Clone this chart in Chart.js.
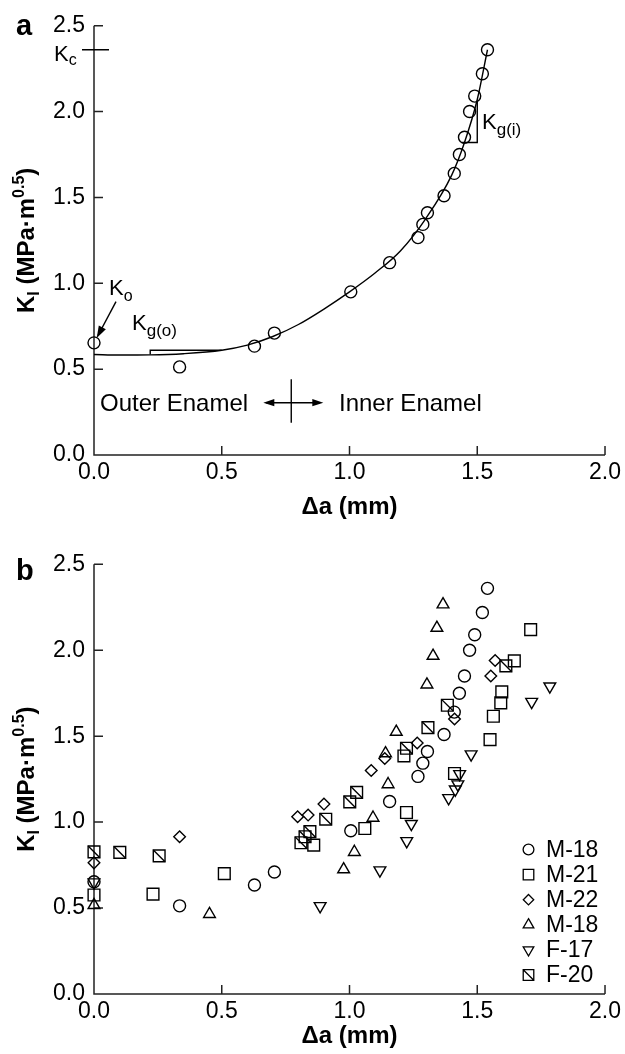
<!DOCTYPE html>
<html>
<head>
<meta charset="utf-8">
<title>K-resistance curves</title>
<script src="https://cdn.jsdelivr.net/npm/chart.js@4.4.1/dist/chart.umd.min.js"></script>
<style>
  html, body { margin: 0; padding: 0; background: #fff; }
  canvas { display: block; }
</style>
</head>
<body>
<canvas id="chart-a" width="625" height="530"></canvas>
<canvas id="chart-b" width="625" height="524"></canvas>
<script>
const FONT = '"Liberation Sans", Arial, Helvetica, sans-serif';
const INK = '#000';

// axis ticks, same for both panels
const xTicks = [0, 0.5, 1.0, 1.5, 2.0];
const yTicks = [0, 0.5, 1.0, 1.5, 2.0, 2.5];

// panel a (and circles in b): M-18, K_I vs crack extension
const m18X = [0.0, 0.335, 0.628, 0.706, 1.005, 1.157, 1.268, 1.287, 1.305, 1.37, 1.41, 1.43, 1.45, 1.47, 1.49, 1.52, 1.54];
const m18Y = [0.653, 0.513, 0.634, 0.71, 0.95, 1.12, 1.266, 1.343, 1.411, 1.51, 1.64, 1.75, 1.85, 2.0, 2.09, 2.22, 2.36];

// panel a: fitted curve
const fitX = [0, 0.1, 0.22, 0.35, 0.5, 0.6, 0.7, 0.8, 0.9, 1.0, 1.1, 1.2, 1.3, 1.4, 1.45, 1.5, 1.54];
const fitY = [0.585, 0.582, 0.583, 0.59, 0.61, 0.64, 0.69, 0.76, 0.85, 0.95, 1.06, 1.19, 1.38, 1.63, 1.82, 2.07, 2.36];

// panel b: other specimens
const m21X = [0.0, 0.231, 0.51, 0.86, 1.06, 1.213, 1.223, 1.411, 1.55, 1.563, 1.592, 1.596, 1.645, 1.709];
const m21Y = [0.576, 0.581, 0.70, 0.866, 0.963, 1.385, 1.056, 1.283, 1.48, 1.616, 1.694, 1.758, 1.938, 2.12];

const m22X = [0.0, 0.335, 0.797, 0.838, 0.90, 1.085, 1.138, 1.265, 1.411, 1.553, 1.57];
const m22Y = [0.763, 0.915, 1.031, 1.041, 1.105, 1.30, 1.37, 1.46, 1.60, 1.85, 1.94];

const m18bX = [0.0, 0.452, 0.977, 1.019, 1.092, 1.141, 1.151, 1.183, 1.303, 1.327, 1.342, 1.366];
const m18bY = [0.517, 0.465, 0.725, 0.826, 1.025, 1.40, 1.22, 1.525, 1.80, 1.967, 2.13, 2.266];

const f17X = [0.0, 0.885, 1.119, 1.224, 1.242, 1.388, 1.414, 1.424, 1.431, 1.476, 1.713, 1.784];
const f17Y = [0.65, 0.512, 0.72, 0.89, 0.99, 1.14, 1.19, 1.22, 1.28, 1.395, 1.70, 1.79];

const f20X = [0.0, 0.101, 0.255, 0.81, 0.826, 0.845, 0.907, 1.001, 1.028, 1.223, 1.307, 1.383, 1.612];
const f20Y = [0.827, 0.824, 0.804, 0.88, 0.915, 0.945, 1.017, 1.118, 1.173, 1.43, 1.55, 1.68, 1.909];

const legendNames = ['M-18', 'M-21', 'M-22', 'M-18', 'F-17', 'F-20'];

const pts = (xs, ys) => xs.map((v, i) => ({ x: v, y: ys[i] }));

function drawParts(ctx, parts, x, y) {
    let cx = x;
    parts.forEach(p => {
        ctx.font = (p.bold ? 'bold ' : '') + p.size + 'px ' + FONT;
        ctx.fillText(p.t, cx, y + (p.dy || 0));
        cx += ctx.measureText(p.t).width;
    });
    return cx - x;
}

function partsWidth(ctx, parts) {
    let w = 0;
    parts.forEach(p => {
        ctx.font = (p.bold ? 'bold ' : '') + p.size + 'px ' + FONT;
        w += ctx.measureText(p.t).width;
    });
    return w;
}

function arrowHead(ctx, fromX, fromY, toX, toY, len, half) {
    const a = Math.atan2(toY - fromY, toX - fromX);
    ctx.beginPath();
    ctx.moveTo(toX, toY);
    ctx.lineTo(toX - len * Math.cos(a) + half * Math.sin(a), toY - len * Math.sin(a) - half * Math.cos(a));
    ctx.lineTo(toX - len * Math.cos(a) - half * Math.sin(a), toY - len * Math.sin(a) + half * Math.cos(a));
    ctx.closePath();
    ctx.fill();
}

// same shapes as chart.js point styles, for the legend
function drawMarker(ctx, ds, cx, cy, scale) {
    const r = ds.pointRadius * scale;
    const style = ds.pointStyle;
    ctx.beginPath();
    if (style === 'circle') {
        ctx.arc(cx, cy, r, 0, Math.PI * 2);
    } else if (style === 'rect') {
        const h = r * Math.SQRT1_2;
        ctx.rect(cx - h, cy - h, 2 * h, 2 * h);
        if (ds.diagonal) {
            ctx.moveTo(cx - h, cy - h);
            ctx.lineTo(cx + h, cy + h);
        }
    } else if (style === 'rectRot') {
        ctx.moveTo(cx, cy - r);
        ctx.lineTo(cx + r, cy);
        ctx.lineTo(cx, cy + r);
        ctx.lineTo(cx - r, cy);
        ctx.closePath();
    } else if (style === 'triangle') {
        let a = (ds.pointRotation || 0) * Math.PI / 180;
        ctx.moveTo(cx + Math.sin(a) * r, cy - Math.cos(a) * r);
        a += 2 * Math.PI / 3;
        ctx.lineTo(cx + Math.sin(a) * r, cy - Math.cos(a) * r);
        a += 2 * Math.PI / 3;
        ctx.lineTo(cx + Math.sin(a) * r, cy - Math.cos(a) * r);
        ctx.closePath();
    }
    ctx.stroke();
}

// F-20 squares get a diagonal stroke on top of the library's rect
const diagonalPlugin = {
    id: 'diagonals',
    afterDatasetsDraw(chart) {
        const { ctx } = chart;
        ctx.save();
        chart.data.datasets.forEach((ds, i) => {
            if (!ds.diagonal) return;
            const h = ds.pointRadius * Math.SQRT1_2;
            ctx.strokeStyle = INK;
            ctx.lineWidth = ds.pointBorderWidth;
            ctx.beginPath();
            chart.getDatasetMeta(i).data.forEach(el => {
                ctx.moveTo(el.x - h, el.y - h);
                ctx.lineTo(el.x + h, el.y + h);
            });
            ctx.stroke();
        });
        ctx.restore();
    }
};

// axes with inward ticks, panel letter, axis titles
const framePlugin = {
    id: 'frame',
    beforeDatasetsDraw(chart) {
        const { ctx, scales: { x, y } } = chart;
        const x0 = x.getPixelForValue(xTicks[0]);
        const x1 = x.getPixelForValue(xTicks[xTicks.length - 1]);
        const y0 = y.getPixelForValue(yTicks[0]);
        const y1 = y.getPixelForValue(yTicks[yTicks.length - 1]);
        ctx.save();
        ctx.strokeStyle = '#222';
        ctx.lineWidth = 1.5;
        ctx.beginPath();
        ctx.moveTo(x0, y1);
        ctx.lineTo(x0, y0);
        ctx.lineTo(x1, y0);
        xTicks.forEach(v => {
            const p = x.getPixelForValue(v);
            ctx.moveTo(p, y0);
            ctx.lineTo(p, y0 - 9);
        });
        yTicks.forEach(v => {
            const p = y.getPixelForValue(v);
            ctx.moveTo(x0, p);
            ctx.lineTo(x0 + 9, p);
        });
        ctx.stroke();
        ctx.restore();
    },
    afterDraw(chart, args, opts) {
        const { ctx, chartArea } = chart;
        ctx.save();
        ctx.fillStyle = INK;
        ctx.textBaseline = 'alphabetic';
        ctx.textAlign = 'left';

        // panel letter
        ctx.font = 'bold 29px ' + FONT;
        ctx.fillText(opts.letter, 16, opts.letterY);

        // y title: K_I (MPa·m^0.5)
        const yParts = [
            { t: 'K', size: 24, bold: true },
            { t: 'I', size: 16, bold: true, dy: 5 },
            { t: ' (MPa\u00B7m', size: 24, bold: true },
            { t: '0.5', size: 16, bold: true, dy: -10 },
            { t: ')', size: 24, bold: true }
        ];
        const w = partsWidth(ctx, yParts);
        ctx.save();
        ctx.translate(25, (chartArea.top + chartArea.bottom) / 2);
        ctx.rotate(-Math.PI / 2);
        drawParts(ctx, yParts, -w / 2, 8.6);
        ctx.restore();

        // x title
        ctx.font = 'bold 24px ' + FONT;
        ctx.textAlign = 'center';
        ctx.fillText('\u0394a (mm)', (chartArea.left + chartArea.right) / 2, opts.xTitleY);
        ctx.restore();
    }
};

// panel a annotations
const annotateA = {
    id: 'annotateA',
    afterDatasetsDraw(chart) {
        const { ctx, scales: { x, y } } = chart;
        const X = v => x.getPixelForValue(v);
        const Y = v => y.getPixelForValue(v);
        const kc = m18Y[m18Y.length - 1];
        ctx.save();
        ctx.strokeStyle = INK;
        ctx.fillStyle = INK;
        ctx.lineWidth = 1.4;
        ctx.textAlign = 'left';
        ctx.textBaseline = 'alphabetic';

        // K_c mark across the axis
        ctx.beginPath();
        ctx.moveTo(X(0) - 12, Y(kc));
        ctx.lineTo(X(0) + 15, Y(kc));
        // K_g(o) step
        ctx.moveTo(X(0.22), Y(0.585));
        ctx.lineTo(X(0.22), Y(0.61));
        ctx.lineTo(X(0.5), Y(0.61));
        // K_g(i) step
        ctx.moveTo(X(1.44), Y(1.82));
        ctx.lineTo(X(1.5), Y(1.82));
        ctx.lineTo(X(1.5), Y(2.064));
        ctx.stroke();

        drawParts(ctx, [{ t: 'K', size: 22 }, { t: 'c', size: 16, dy: 4 }], 54, Y(kc) + 11);
        drawParts(ctx, [{ t: 'K', size: 22 }, { t: 'o', size: 16, dy: 5.5 }], 109, 295);
        drawParts(ctx, [{ t: 'K', size: 22 }, { t: 'g(o)', size: 17, dy: 6 }], 132, 330);
        drawParts(ctx, [{ t: 'K', size: 22 }, { t: 'g(i)', size: 17, dy: 6 }], 482, 128.5);

        // arrow to K_o
        ctx.beginPath();
        ctx.moveTo(116, 301.7);
        ctx.lineTo(98, 335.5);
        ctx.stroke();
        arrowHead(ctx, 116, 301.7, 96.7, 338, 12, 4);

        // outer / inner enamel boundary
        const bx = X(0.772);
        const by = 402.7;
        ctx.beginPath();
        ctx.moveTo(bx, 379.3);
        ctx.lineTo(bx, 422.7);
        ctx.moveTo(266, by);
        ctx.lineTo(320, by);
        ctx.stroke();
        arrowHead(ctx, bx, by, 263.3, by, 11, 3.6);
        arrowHead(ctx, bx, by, 323.3, by, 11, 3.6);

        ctx.font = '24px ' + FONT;
        ctx.fillText('Outer Enamel', 100, 410.5);
        ctx.fillText('Inner Enamel', 339, 410.5);
        ctx.restore();
    }
};

// legend inside panel b
const legendB = {
    id: 'legendB',
    afterDraw(chart) {
        const { ctx } = chart;
        ctx.save();
        ctx.strokeStyle = INK;
        ctx.fillStyle = INK;
        ctx.lineWidth = 1.3;
        ctx.font = '23px ' + FONT;
        ctx.textAlign = 'left';
        ctx.textBaseline = 'middle';
        chart.data.datasets.forEach((ds, i) => {
            const cy = 319.5 + i * 25.1;
            drawMarker(ctx, ds, 528.5, cy, 0.9);
            ctx.fillText(legendNames[i], 546, cy + 1);
        });
        ctx.restore();
    }
};

function makeOptions(padTop, xAxisHeight) {
    return {
        responsive: false,
        animation: false,
        events: [],
        layout: { padding: { top: padTop, right: 18.3, left: 0, bottom: 0 } },
        plugins: {
            legend: { display: false },
            tooltip: { enabled: false }
        },
        scales: {
            x: {
                type: 'linear',
                min: 0,
                max: 2,
                grid: { display: false, drawTicks: false },
                border: { display: false },
                afterBuildTicks: s => { s.ticks = xTicks.map(v => ({ value: v })); },
                afterFit: s => { s.height = xAxisHeight; },
                ticks: {
                    color: INK,
                    padding: 4,
                    maxRotation: 0,
                    autoSkip: false,
                    font: { family: FONT, size: 23 },
                    callback: v => v.toFixed(1)
                }
            },
            y: {
                type: 'linear',
                min: 0,
                max: 2.5,
                grid: { display: false, drawTicks: false },
                border: { display: false },
                afterBuildTicks: s => { s.ticks = yTicks.map(v => ({ value: v })); },
                afterFit: s => { s.width = 94; },
                ticks: {
                    color: INK,
                    padding: 9,
                    autoSkip: false,
                    font: { family: FONT, size: 23 },
                    callback: v => v.toFixed(1)
                }
            }
        }
    };
}

const marker = (data, style, radius, extra) => Object.assign({
    data: data,
    pointStyle: style,
    pointRadius: radius,
    pointHoverRadius: radius,
    pointBorderColor: INK,
    pointBackgroundColor: 'rgba(0,0,0,0)',
    pointBorderWidth: 1.4,
    showLine: false,
    clip: false
}, extra || {});

// panel a
const optsA = makeOptions(25.7, 75);
optsA.plugins.frame = { letter: 'a', letterY: 34.5, xTitleY: 514 };
new Chart(document.getElementById('chart-a'), {
    type: 'scatter',
    data: {
        datasets: [
            {
                data: pts(fitX, fitY),
                showLine: true,
                borderColor: INK,
                borderWidth: 1.4,
                cubicInterpolationMode: 'monotone',
                pointRadius: 0,
                pointHoverRadius: 0,
                clip: false
            },
            marker(pts(m18X, m18Y), 'circle', 6)
        ]
    },
    options: optsA,
    plugins: [framePlugin, annotateA]
});

// panel b
const optsB = makeOptions(34.3, 60);
optsB.plugins.frame = { letter: 'b', letterY: 50, xTitleY: 513 };
new Chart(document.getElementById('chart-b'), {
    type: 'scatter',
    data: {
        datasets: [
            marker(pts(m18X, m18Y), 'circle', 6),
            marker(pts(m21X, m21Y), 'rect', 8.3),
            marker(pts(m22X, m22Y), 'rectRot', 5.8),
            marker(pts(m18bX, m18bY), 'triangle', 6.8),
            marker(pts(f17X, f17Y), 'triangle', 6.8, { pointRotation: 180 }),
            marker(pts(f20X, f20Y), 'rect', 8.3, { diagonal: true })
        ]
    },
    options: optsB,
    plugins: [framePlugin, diagonalPlugin, legendB]
});
</script>
</body>
</html>
